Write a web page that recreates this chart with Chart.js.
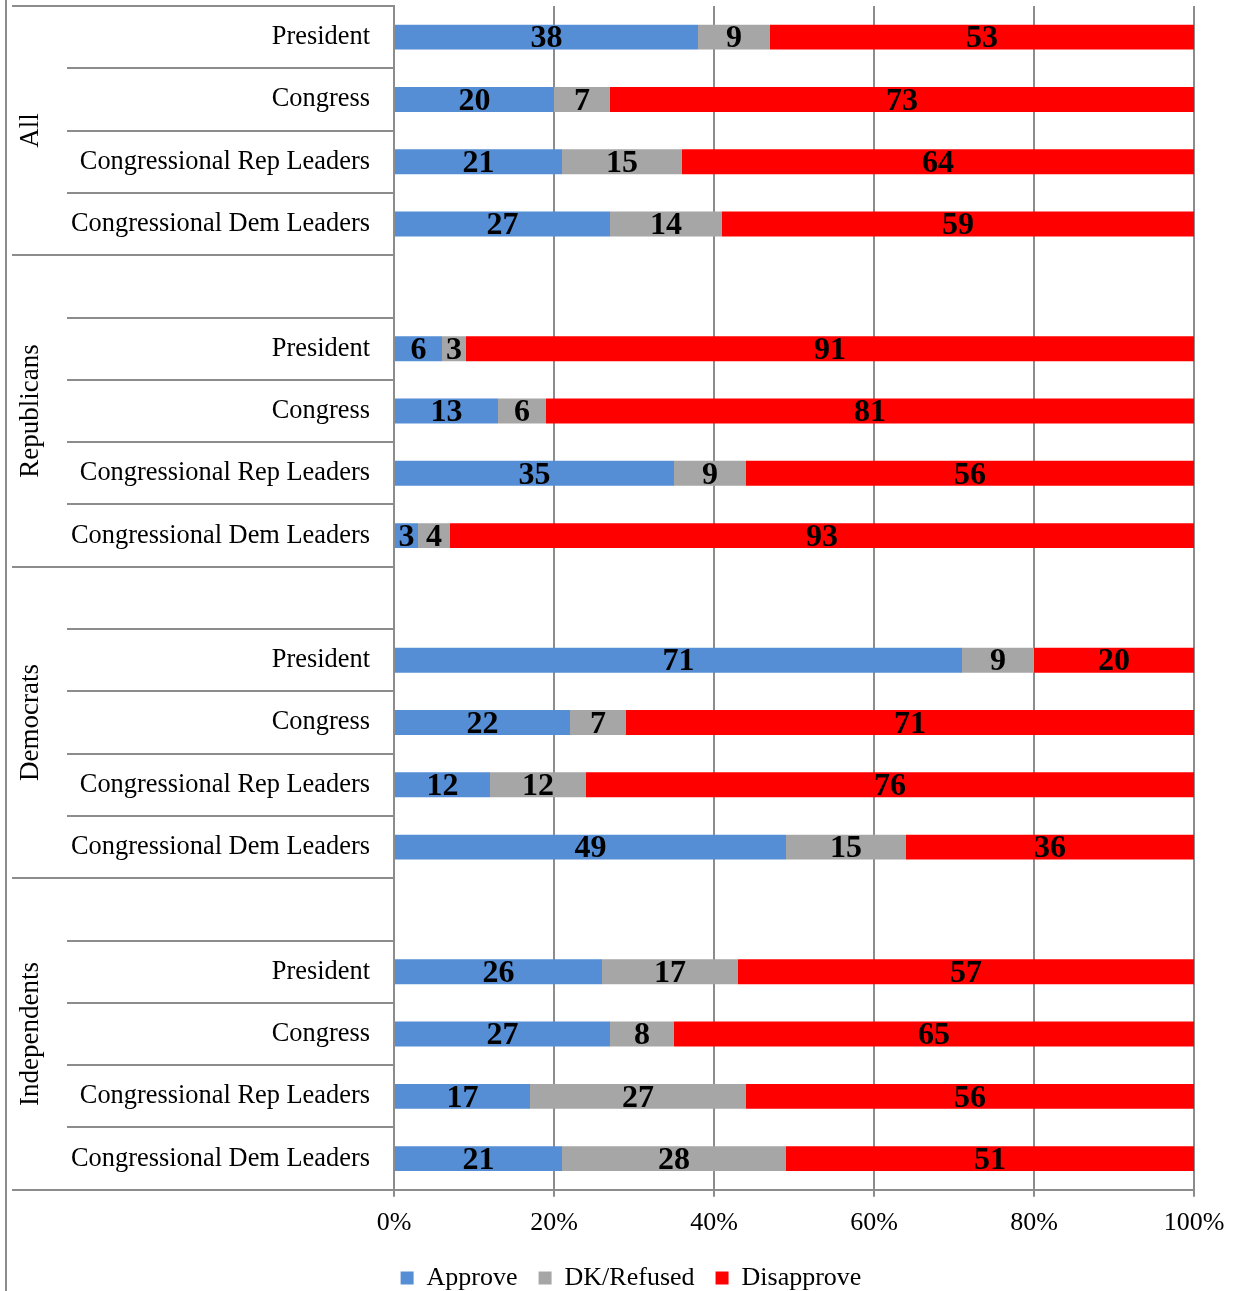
<!DOCTYPE html>
<html>
<head>
<meta charset="utf-8">
<script src="https://cdn.jsdelivr.net/npm/chart.js@4/dist/chart.umd.min.js"></script>
<style>
  html, body { margin: 0; padding: 0; background: #fff; overflow: hidden; }
  #wrap { width: 1233px; height: 1291px; position: relative; }
</style>
</head>
<body>
<div id="wrap"><canvas id="c"></canvas></div>
<script>
// Row labels (blank rows separate the groups)
const categories = [
  'President', 'Congress', 'Congressional Rep Leaders', 'Congressional Dem Leaders',
  '', 'President', 'Congress', 'Congressional Rep Leaders', 'Congressional Dem Leaders',
  '', 'President', 'Congress', 'Congressional Rep Leaders', 'Congressional Dem Leaders',
  '', 'President', 'Congress', 'Congressional Rep Leaders', 'Congressional Dem Leaders'
];
// Outer grouping: name, first row index, row count
const groupNames = ['All', 'Republicans', 'Democrats', 'Independents'];
const groupStarts = [0, 4, 9, 14];
const groupSizes = [4, 5, 5, 5];

const approve =    [38, 20, 21, 27, null,  6, 13, 35,  3, null, 71, 22, 12, 49, null, 26, 27, 17, 21];
const dkRefused =  [ 9,  7, 15, 14, null,  3,  6,  9,  4, null,  9,  7, 12, 15, null, 17,  8, 27, 28];
const disapprove = [53, 73, 64, 59, null, 91, 81, 56, 93, null, 20, 71, 76, 36, null, 57, 65, 56, 51];

const xTicks = [0, 20, 40, 60, 80, 100];

const SERIF = "'Liberation Serif', 'Times New Roman', serif";
const LINE = '#8c8c8c';

// Category separators, group labels and the outer frame line
const groupAxisPlugin = {
  id: 'groupAxis',
  afterLayout(chart) {
    // nudge the legend into its final place and let it run to the bottom edge
    const lg = chart.legend;
    if (lg) {
      lg.top -= 6;
      lg.bottom = chart.height;
      lg.left += 14; lg.right += 14;
    }
  },
  afterDraw(chart) {
    const { ctx, scales: { y }, chartArea } = chart;
    const axisX = chartArea.left;
    ctx.save();
    ctx.strokeStyle = LINE;
    ctx.lineWidth = 2;
    // frame line on the far left
    ctx.beginPath();
    ctx.moveTo(6, 0);
    ctx.lineTo(6, chart.height);
    ctx.stroke();
    const groupEdges = new Set();
    groupStarts.forEach((s, i) => { groupEdges.add(s); groupEdges.add(s + groupSizes[i]); });
    for (let k = 0; k <= categories.length; k++) {
      const yy = Math.round(y.getPixelForValue(k - 0.5));
      const x0 = groupEdges.has(k) ? 12 : 67;
      ctx.beginPath();
      ctx.moveTo(x0, yy);
      ctx.lineTo(axisX, yy);
      ctx.stroke();
    }
    // rotated group names
    ctx.fillStyle = '#000';
    ctx.font = '27px ' + SERIF;
    ctx.textAlign = 'center';
    ctx.textBaseline = 'middle';
    groupNames.forEach((name, i) => {
      const top = y.getPixelForValue(groupStarts[i] - 0.5);
      const bot = y.getPixelForValue(groupStarts[i] + groupSizes[i] - 0.5);
      ctx.save();
      ctx.translate(31, (top + bot) / 2);
      ctx.rotate(-Math.PI / 2);
      ctx.fillText(name, 0, 0);
      ctx.restore();
    });
    ctx.restore();
  }
};

// Value labels centred in each bar segment
const valueLabelPlugin = {
  id: 'valueLabels',
  afterDatasetsDraw(chart) {
    const { ctx } = chart;
    ctx.save();
    ctx.fillStyle = '#000';
    ctx.font = 'bold 32px ' + SERIF;
    ctx.textAlign = 'center';
    ctx.textBaseline = 'middle';
    chart.data.datasets.forEach((ds, di) => {
      const meta = chart.getDatasetMeta(di);
      meta.data.forEach((bar, i) => {
        const v = ds.data[i];
        if (v === null || v === undefined) return;
        const { x, base, y } = bar.getProps(['x', 'base', 'y'], true);
        ctx.fillText(String(v), (x + base) / 2, y + 2);
      });
    });
    ctx.restore();
  }
};

new Chart(document.getElementById('c'), {
  type: 'bar',
  data: {
    labels: categories,
    datasets: [
      { label: 'Approve', data: approve, backgroundColor: '#558ED5', borderWidth: 0 },
      { label: 'DK/Refused', data: dkRefused, backgroundColor: '#A6A6A6', borderWidth: 0 },
      { label: 'Disapprove', data: disapprove, backgroundColor: '#FF0000', borderWidth: 0 }
    ]
  },
  options: {
    indexAxis: 'y',
    responsive: true,
    maintainAspectRatio: false,
    animation: false,
    barPercentage: 0.4,
    categoryPercentage: 1.0,
    layout: { padding: { top: 6, left: 40, right: 39, bottom: 0 } },
    plugins: {
      legend: {
        position: 'bottom',
        maxHeight: 41,
        labels: {
          color: '#000',
          font: { family: SERIF, size: 26 },
          boxWidth: 13,
          boxHeight: 13,
          padding: 21
        }
      },
      tooltip: { enabled: false }
    },
    scales: {
      x: {
        stacked: true,
        min: 0,
        max: 100,
        afterBuildTicks(scale) { scale.ticks = xTicks.map(v => ({ value: v })); },
        afterFit(scale) { scale.paddingRight = 0; },
        ticks: {
          color: '#000',
          font: { family: SERIF, size: 26 },
          padding: 11,
          callback: v => v + '%',
          maxRotation: 0
        },
        grid: { color: LINE, lineWidth: 2, tickLength: 7, drawTicks: true },
        border: { color: LINE, width: 2 }
      },
      y: {
        stacked: true,
        afterFit(scale) {
          scale.width = 354;
          scale.paddingTop = 0;
          scale.paddingBottom = 0;
        },
        ticks: {
          color: '#000',
          font: { family: SERIF, size: 26.4 },
          padding: 24,
          autoSkip: false
        },
        grid: { display: false, drawTicks: false },
        border: { display: true, color: LINE, width: 2 }
      }
    }
  },
  plugins: [groupAxisPlugin, valueLabelPlugin]
});
</script>
</body>
</html>
